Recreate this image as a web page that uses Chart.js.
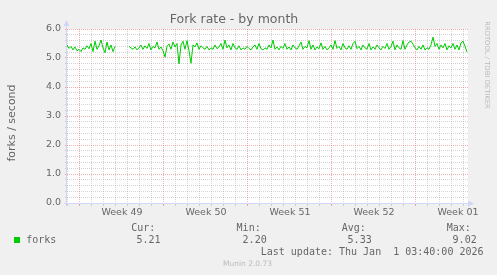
<!DOCTYPE html>
<html><head><meta charset="utf-8">
<script src="https://cdn.jsdelivr.net/npm/chart.js@4"></script>
<style>
html,body{margin:0;padding:0;background:#f0f0f0;}
#wrap{position:relative;width:497px;height:275px;}
canvas{display:block;}
</style></head><body>
<div id="wrap"><canvas id="c" width="497" height="275"></canvas></div>
<script>
// ---- data ----
const chartTitle = 'Fork rate - by month';
const yAxisTitle = 'forks / second';
const seriesLabel = 'forks';
const sampleStepDays = 1 / 6;          // one sample every 4 hours
const rangeDays = 33.4167;             // span of the x axis in days
const forks = [
  5.45,5.33,5.40,5.28,5.38,5.25,5.30,5.22,5.35,5.30,
  5.42,5.32,5.50,5.22,5.58,5.30,5.42,5.62,5.35,5.18,
  5.55,5.28,5.45,5.22,5.40,
  null,null,null,null,null,null,
  5.40,5.35,5.30,5.38,5.28,5.35,5.45,5.30,5.42,5.33,
  5.50,5.28,5.40,5.35,5.55,5.30,5.38,5.25,5.03,5.40,
  5.48,5.30,5.55,5.38,5.50,4.80,5.45,5.58,5.30,5.60,
  5.25,4.82,5.45,5.38,5.52,5.30,5.42,5.35,5.30,5.40,
  5.28,5.35,5.30,5.45,5.32,5.38,5.50,5.30,5.62,5.35,
  5.45,5.28,5.50,5.35,5.30,5.42,5.28,5.35,5.30,5.40,
  5.33,5.28,5.38,5.45,5.30,5.50,5.32,5.28,5.35,5.30,
  5.45,5.35,5.62,5.30,5.38,5.28,5.40,5.33,5.50,5.30,
  5.38,5.28,5.45,5.35,5.30,5.42,5.55,5.30,5.40,5.35,
  5.60,5.30,5.45,5.28,5.38,5.32,5.52,5.30,5.40,5.28,
  5.35,5.45,5.30,5.60,5.33,5.40,5.28,5.50,5.35,5.30,
  5.42,5.30,5.50,5.58,5.32,5.40,5.28,5.45,5.35,5.30,
  5.50,5.28,5.38,5.30,5.45,5.35,5.28,5.40,5.33,5.50,
  5.30,5.40,5.58,5.28,5.45,5.35,5.30,5.60,5.30,5.45,
  5.55,5.58,5.48,5.35,5.28,5.40,5.30,5.45,5.28,5.35,
  5.30,5.45,5.72,5.40,5.50,5.30,5.45,5.35,5.50,5.28,
  5.42,5.35,5.50,5.30,5.45,5.28,5.52,5.58,5.40,5.21
];
const weekLabels = ['Week 49','Week 50','Week 51','Week 52','Week 01'];
const weekLabelDays = [4.5833, 11.5833, 18.5833, 25.5833, 32.5833];
const weekBoundaryDays = [1.0833, 8.0833, 15.0833, 22.0833, 29.0833];
const firstDayLine = 0.0833;
const yMax = 6;
const yMinorStep = 0.2;
const statHeaders = ['Cur:', 'Min:', 'Avg:', 'Max:'];
const statValues = ['5.21', '2.20', '5.33', '9.02'];
const lastUpdate = 'Last update: Thu Jan  1 03:40:00 2026';
const versionText = 'Munin 2.0.73';
const watermark = 'RRDTOOL / TOBI OETIKER';

// ---- styles ----
const FONT_COLOR = '#666666';
const GRID = 'rgba(143,143,143,0.38)';
const MGRID = 'rgba(222,79,79,0.45)';
const AXIS = '#CFD6F8';
const LINE = '#00cc00';
const near = (a, b) => Math.abs(a - b) < 1e-3;

const dayLines = [];
for (let d = firstDayLine; d < rangeDays; d += 1) dayLines.push(+d.toFixed(4));
const xTickValues = dayLines.concat(weekLabelDays).sort((a, b) => a - b);
const yTickValues = [];
for (let i = 0; i <= Math.round(yMax / yMinorStep); i++) yTickValues.push(+(i * yMinorStep).toFixed(1));

const points = forks.map((v, i) => ({ x: i * sampleStepDays, y: v }));

const isLabelTick = v => weekLabelDays.some(w => near(w, v));
const isWeekLine = v => weekBoundaryDays.some(w => near(w, v));
const isMajorY = v => near(v, Math.round(v));

const muninPlugin = {
  id: 'munin',
  beforeDraw(chart) {
    const { ctx, chartArea: a } = chart;
    ctx.save();
    ctx.fillStyle = '#ffffff';
    ctx.fillRect(a.left, a.top, a.right - a.left, a.bottom - a.top);
    ctx.restore();
  },
  afterDraw(chart) {
    const { ctx, chartArea: a } = chart;
    ctx.save();
    // axes
    ctx.strokeStyle = AXIS;
    ctx.lineWidth = 1;
    ctx.beginPath();
    ctx.moveTo(a.left - 3, a.bottom + 0.5);
    ctx.lineTo(a.right + 1, a.bottom + 0.5);
    ctx.moveTo(a.left - 0.5, a.bottom + 3);
    ctx.lineTo(a.left - 0.5, a.top - 4);
    ctx.stroke();
    ctx.fillStyle = AXIS;
    ctx.beginPath();
    ctx.moveTo(a.left - 0.5, a.top - 9);
    ctx.lineTo(a.left - 3.5, a.top - 3);
    ctx.lineTo(a.left + 2.5, a.top - 3);
    ctx.closePath();
    ctx.fill();
    ctx.beginPath();
    ctx.moveTo(a.right + 6, a.bottom + 0.5);
    ctx.lineTo(a.right, a.bottom - 2.5);
    ctx.lineTo(a.right, a.bottom + 3.5);
    ctx.closePath();
    ctx.fill();

    // y axis title
    ctx.fillStyle = FONT_COLOR;
    ctx.font = '11px "DejaVu Sans"';
    ctx.textAlign = 'center';
    ctx.textBaseline = 'middle';
    ctx.save();
    ctx.translate(12, 123);
    ctx.rotate(-Math.PI / 2);
    ctx.fillText(yAxisTitle, 0, 0);
    ctx.restore();

    // watermark
    ctx.save();
    ctx.fillStyle = 'rgba(102,102,102,0.4)';
    ctx.font = '6.8px "DejaVu Sans"';
    ctx.translate(487, 65);
    ctx.rotate(Math.PI / 2);
    ctx.fillText(watermark, 0, 0);
    ctx.restore();

    // legend
    ctx.font = '10px "DejaVu Sans Mono"';
    ctx.textAlign = 'left';
    ctx.fillStyle = FONT_COLOR;
    const headX = [131.2, 236.6, 341.8, 446.8];
    const valX = [136.4, 242.6, 347.6, 452.6];
    statHeaders.forEach((t, i) => ctx.fillText(t, headX[i], 228));
    ctx.fillStyle = LINE;
    ctx.fillRect(14, 237, 6, 6);
    ctx.fillStyle = FONT_COLOR;
    ctx.fillText(seriesLabel, 26.2, 240);
    statValues.forEach((t, i) => ctx.fillText(t, valX[i], 240));
    ctx.textAlign = 'right';
    ctx.fillText(lastUpdate, 483.5, 252);
    ctx.textAlign = 'center';
    ctx.fillStyle = '#bbbbbb';
    ctx.font = '7.5px "DejaVu Sans"';
    ctx.fillText(versionText, 247.5, 264);
    ctx.restore();
  }
};

new Chart(document.getElementById('c'), {
  type: 'line',
  data: {
    datasets: [{
      label: seriesLabel,
      data: points,
      borderColor: LINE,
      borderWidth: 1,
      pointRadius: 0,
      tension: 0,
      spanGaps: false,
      fill: false
    }]
  },
  options: {
    responsive: false,
    animation: false,
    devicePixelRatio: 1,
    layout: { padding: { left: 0, right: 29, top: 0, bottom: 0 } },
    plugins: {
      legend: { display: false },
      tooltip: { enabled: false },
      title: {
        display: true,
        text: chartTitle,
        color: FONT_COLOR,
        font: { family: 'DejaVu Sans', size: 12.5, weight: 'normal', lineHeight: 1.2 },
        padding: { top: 12, bottom: 2 }
      }
    },
    scales: {
      x: {
        type: 'linear',
        min: 0,
        max: rangeDays,
        afterFit: s => { s.height = 72; },
        afterBuildTicks: s => { s.ticks = xTickValues.map(v => ({ value: v })); },
        ticks: {
          autoSkip: false,
          maxRotation: 0,
          padding: 1,
          color: FONT_COLOR,
          font: { family: 'DejaVu Sans', size: 9.5 },
          callback: v => { const i = weekLabelDays.findIndex(w => near(w, v)); return i >= 0 ? weekLabels[i] : ''; }
        },
        grid: {
          lineWidth: 1,
          tickLength: 3,
          color: c => isLabelTick(c.tick.value) ? 'rgba(0,0,0,0)' : (isWeekLine(c.tick.value) ? MGRID : GRID),
          tickColor: c => isLabelTick(c.tick.value) ? 'rgba(0,0,0,0)' : (isWeekLine(c.tick.value) ? MGRID : GRID)
        },
        border: { display: false, dash: [1, 1] }
      },
      y: {
        min: 0,
        max: yMax,
        afterFit: s => { s.width = 67; },
        afterBuildTicks: s => { s.ticks = yTickValues.map(v => ({ value: v })); },
        ticks: {
          autoSkip: false,
          padding: 4,
          color: FONT_COLOR,
          font: { family: 'DejaVu Sans', size: 9.5 },
          callback: v => isMajorY(v) ? Number(v).toFixed(1) : ''
        },
        grid: {
          lineWidth: 1,
          tickLength: 2,
          color: c => isMajorY(c.tick.value) ? MGRID : GRID,
          tickColor: c => isMajorY(c.tick.value) ? MGRID : GRID
        },
        border: { display: false, dash: [1, 1] }
      }
    }
  },
  plugins: [muninPlugin]
});
</script>
</body></html>
